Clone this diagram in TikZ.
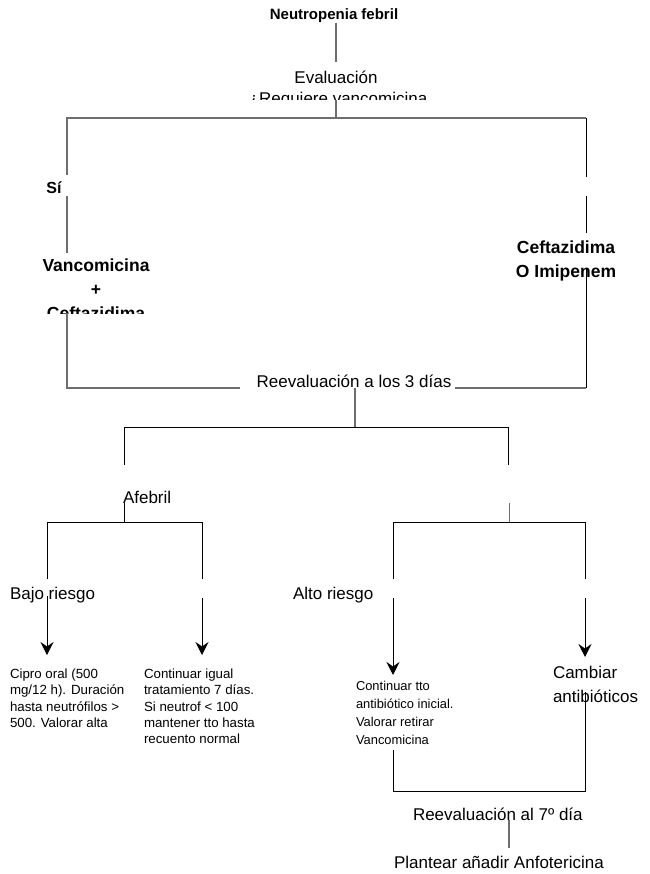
\documentclass[tikz,border=0pt]{standalone}
\usepackage{fontspec}
\setmainfont{Liberation Sans}
\usetikzlibrary{arrows.meta}
\definecolor{linegray}{RGB}{110,110,110}
\begin{document}
\begin{tikzpicture}[x=1pt,y=-1pt,
  txt/.style={inner sep=0pt, outer sep=0pt, font=\fontsize{17}{23.4}\selectfont, align=left},
  boldtxt/.style={inner sep=0pt, outer sep=0pt, font=\fontsize{17.5}{24}\selectfont\bfseries},
  note/.style={inner sep=0pt, outer sep=0pt, font=\fontsize{13.3}{16.3}\selectfont, align=left},
  notesmall/.style={inner sep=0pt, outer sep=0pt, font=\fontsize{12.9}{18}\selectfont, align=left},
  grayline/.style={draw=linegray, line width=1.2pt},
  blackline/.style={draw=black, line width=1pt},
  arrowline/.style={blackline, -{Stealth[length=13pt,width=13pt,inset=4.5pt]}},
]
\useasboundingbox[fill=white] (0,0) rectangle (649,874);

% ---------- texts ----------
\node[inner sep=0pt, font=\fontsize{15}{18}\selectfont\bfseries, anchor=base] (neutro) at (334,20) {Neutropenia febril};

\begin{scope}
  \clip (200,62) rectangle (470,100);
  \node[txt, anchor=base] (eval) at (336,83.3) {Evaluación};
  \node[txt, anchor=base] (requiere) at (338,105) {¿Requiere vancomicina};
\end{scope}

\node[inner sep=0pt, font=\fontsize{16}{18}\selectfont\bfseries, anchor=base] (si) at (54,193.3) {Sí};

\begin{scope}
  \clip (20,253) rectangle (175,313);
  \node[boldtxt, anchor=base] (vanco) at (96,271.7) {Vancomicina};
  \node[boldtxt, anchor=base] (plus) at (96,295.5) {+};
  \node[boldtxt, anchor=base] (cefta) at (96,319.5) {Ceftazidima};
\end{scope}

\node[boldtxt, anchor=base] (ceftaR) at (566,254) {Ceftazidima};
\node[boldtxt, anchor=base] (imipenem) at (566,277.7) {O Imipenem};

\node[txt, anchor=base] (reeval3) at (354,387.5) {Reevaluación a los 3 días};

\node[txt, anchor=base west] (afebril) at (123,503.3) {Afebril};
\node[txt, anchor=base west] (bajo) at (10,599.3) {Bajo riesgo};
\node[txt, anchor=base west] (alto) at (293,599.3) {Alto riesgo};

\node[note, anchor=north west] (cipro) at (10,669)
  {Cipro oral (500\\mg/12 h). Duración\\hasta neutrófilos >\\500. Valorar alta};
\node[note, anchor=north west] (igual) at (144,669)
  {Continuar igual\\tratamiento 7 días.\\Si neutrof < 100\\mantener tto hasta\\recuento normal};
\node[notesmall, anchor=north west] (inicial) at (356,681)
  {Continuar tto\\antibiótico inicial.\\Valorar retirar\\Vancomicina};
\node[txt, anchor=north west] (cambiar) at (553,666.5) {Cambiar\\antibióticos};

\node[txt, anchor=base west] (reeval7) at (413,820) {Reevaluación al 7º día};
\node[txt, anchor=base west] (anfo) at (394,868.3) {Plantear añadir Anfotericina};

% ---------- connector end points ----------
\coordinate (neutroS) at (336,23);
\coordinate (evalN) at (336,62);
\coordinate (evalS) at (336,100);
\coordinate (topmid) at (336,118);
\coordinate (topL) at (67,118);
\coordinate (topR) at (586,118);
\coordinate (siN) at (67,175);
\coordinate (siS) at (67,196);
\coordinate (vancoN) at (67,253);
\coordinate (vancoS) at (67,313);
\coordinate (gapN) at (586,177);
\coordinate (gapS) at (586,196);
\coordinate (ceftaN) at (586,233);
\coordinate (ceftaS) at (586,269);
\coordinate (botL) at (67,388);
\coordinate (botR) at (586,388);
\coordinate (reevalW) at (240,388);
\coordinate (reevalE) at (455,388);
\coordinate (reevalS) at (355,388);
\coordinate (boxmid) at (355,427);
\coordinate (boxL) at (124,427);
\coordinate (boxR) at (508,427);
\coordinate (boxLend) at (124,465);
\coordinate (boxRend) at (508,465);
\coordinate (afebrilS) at (124,503);
\coordinate (leftmid) at (124,522);
\coordinate (lbL) at (47,522);
\coordinate (lbR) at (202,522);
\coordinate (lbLend) at (47,579);
\coordinate (lbRend) at (202,579);
\coordinate (rtop) at (509,503);
\coordinate (rightmid) at (509,522);
\coordinate (rbL) at (393,522);
\coordinate (rbR) at (585,522);
\coordinate (rbLend) at (393,579);
\coordinate (rbRend) at (585,579);
\coordinate (bajoA) at (47,596);
\coordinate (bajoB) at (202,598);
\coordinate (altoA) at (393,598);
\coordinate (altoB) at (585,598);
\coordinate (ciproN) at (47,655);
\coordinate (igualN) at (202,655);
\coordinate (inicialN) at (393,675);
\coordinate (cambiarN) at (585,657);
\coordinate (inicialS) at (393,750);
\coordinate (cambiarS) at (585,692);
\coordinate (lowL) at (393,791);
\coordinate (lowR) at (585,791);
\coordinate (reeval7S) at (509,820);
\coordinate (anfoN) at (509,848);

% ---------- connectors ----------
\draw[grayline] (neutroS) -- (evalN);
\draw[grayline] (evalS) -- (topmid);
\draw[grayline] (siN) -- (topL) -- (topR);
\draw[grayline] (siS) -- (vancoN);
\draw[grayline] (vancoS) -- (botL) -- (reevalW);
\draw[grayline] (reevalE) -- (botR);
\draw[blackline] (topR) -- (gapN);
\draw[blackline] (gapS) -- (ceftaN);
\draw[blackline] (ceftaS) -- (botR);
\draw[grayline] (reevalS) -- (boxmid);
\draw[blackline] (boxLend) -- (boxL) -- (boxR) -- (boxRend);

\draw[blackline] (afebrilS) -- (leftmid);
\draw[blackline] (lbLend) -- (lbL) -- (lbR) -- (lbRend);
\draw[grayline, line width=1pt] (rtop) -- (rightmid);
\draw[blackline] (rbLend) -- (rbL) -- (rbR) -- (rbRend);

\draw[arrowline] (bajoA) -- (ciproN);
\draw[arrowline] (bajoB) -- (igualN);
\draw[arrowline] (altoA) -- (inicialN);
\draw[arrowline] (altoB) -- (cambiarN);

\draw[blackline] (inicialS) -- (lowL) -- (lowR) -- (cambiarS);
\draw[grayline] (reeval7S) -- (anfoN);
\end{tikzpicture}
\end{document}
